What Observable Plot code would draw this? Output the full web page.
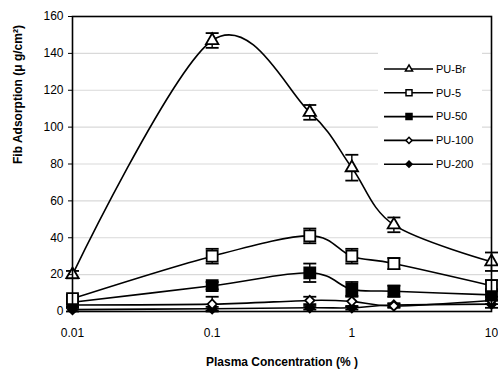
<!DOCTYPE html>
<html><head><meta charset="utf-8">
<script src="https://cdn.jsdelivr.net/npm/d3@7"></script>
<script src="https://cdn.jsdelivr.net/npm/@observablehq/plot@0.6"></script>
<style>
html,body{margin:0;padding:0;background:#fff;}
#chart svg{display:block;font-family:"Liberation Sans",Arial,sans-serif;}
</style></head>
<body><div id="chart"></div>
<script>
const conc = [0.01, 0.1, 0.5, 1, 2, 10];
const seriesNames = ["PU-Br", "PU-5", "PU-50", "PU-100", "PU-200"];
const puBr = [20, 147, 108, 78, 47, 27];
const puBrErr = [2, 4, 4, 7, 4, 5];
const pu5 = [7, 30, 41, 30, 26, 14];
const pu5Err = [2, 4, 4, 4, 3, 3];
const pu50 = [5, 14, 21, 12, 11, 9];
const pu50Err = [1, 2, 5, 4, 3, 3];
const pu100 = [3.5, 4, 6, 5.5, 3, 6];
const pu100Err = [1, 4, 2, 3, 1, 2];
const pu200 = [1, 1.5, 2, 2, 3.5, 4];
const pu200Err = [1, 1, 1, 1, 1, 2];
const yTicks = [0, 20, 40, 60, 80, 100, 120, 140, 160];
const xTicks = [0.01, 0.1, 1, 10];
const xTickLabels = ["0.01", "0.1", "1", "10"];

const symbols = {"PU-Br":"triangle","PU-5":"square","PU-50":"square","PU-100":"diamond2","PU-200":"diamond2"};
const fills = {"PU-Br":"white","PU-5":"white","PU-50":"black","PU-100":"white","PU-200":"black"};
const sizes = {"PU-Br":4.6,"PU-5":6.2,"PU-50":6.2,"PU-100":4.2,"PU-200":4.2};

const vals = [puBr, pu5, pu50, pu100, pu200];
const errs = [puBrErr, pu5Err, pu50Err, pu100Err, pu200Err];
const data = [];
seriesNames.forEach((s, i) => conc.forEach((c, j) => data.push({series: s, x: c, y: vals[i][j], e: errs[i][j]})));

const cap = {draw(ctx, size){ const r = 6.5; ctx.moveTo(-r, 0); ctx.lineTo(r, 0); }};

const marks = [
  Plot.gridY(yTicks.filter(d => d > 0 && d < 160), {stroke: "#d9d9d9", strokeOpacity: 1, strokeWidth: 1.2}),
];
[...seriesNames].reverse().forEach(s => {
  const d = data.filter(r => r.series === s);
  marks.push(Plot.line(d, {x: "x", y: "y", curve: "cardinal", tension: 0, stroke: "black", strokeWidth: 1.6}));
  marks.push(Plot.ruleX(d, {x: "x", y1: r => Math.max(0, r.y - r.e), y2: r => r.y + r.e, stroke: "black", strokeWidth: 1.4}));
  marks.push(Plot.dot(d, {x: "x", y: r => r.y + r.e, symbol: cap, stroke: "black", strokeWidth: 1.8, r: 5}));
  marks.push(Plot.dot(d, {x: "x", y: r => Math.max(0, r.y - r.e), symbol: cap, stroke: "black", strokeWidth: 1.8, r: 5}));
  marks.push(Plot.dot(d, {x: "x", y: "y", symbol: symbols[s], fill: fills[s], stroke: "black", strokeWidth: 1.8, r: sizes[s]}));
});
marks.push(Plot.frame({stroke: "black", strokeWidth: 1.6}));
marks.push(Plot.axisY(yTicks, {tickSize: 4, tickPadding: 5, fontSize: 12, label: null}));
marks.push(Plot.axisX(xTicks, {tickSize: 0, tickPadding: 17, fontSize: 12, label: null, tickFormat: d => xTickLabels[xTicks.indexOf(d)]}));
marks.push(Plot.text(["Fib Adsorption (\u03BC g/cm\u00B2)"], {frameAnchor: "left", dx: -54, rotate: -90, text: d => d, fontWeight: "bold", fontSize: 12}));
marks.push(Plot.text(["Plasma Concentration (% )"], {frameAnchor: "bottom", dy: 54, text: d => d, fontWeight: "bold", fontSize: 12}));

const plot = Plot.plot({
  width: 498, height: 371,
  marginLeft: 72, marginRight: 7, marginTop: 16, marginBottom: 60,
  style: {fontFamily: '"Liberation Sans", Arial, sans-serif', fontSize: "12px", color: "black", background: "white"},
  x: {type: "log", domain: [0.01, 10]},
  y: {domain: [0, 160]},
  marks
});
document.getElementById("chart").appendChild(plot);

// inset legend
const svg = d3.select(plot);
const lg = svg.append("g").attr("font-size", 11).attr("text-anchor", "start")
  .attr("font-family", '"Liberation Sans", Arial, sans-serif');
lg.append("rect").attr("x", 378).attr("y", 52).attr("width", 104).attr("height", 126).attr("fill", "white");
const legSize = {"PU-Br": 22, "PU-5": 36, "PU-50": 36, "PU-100": 24, "PU-200": 24};
seriesNames.forEach((s, i) => {
  const y = 69 + i * 23.8;
  lg.append("line").attr("x1", 384).attr("x2", 433).attr("y1", y).attr("y2", y).attr("stroke", "black").attr("stroke-width", 1.6);
  const sym = {triangle: d3.symbolTriangle, square: d3.symbolSquare, diamond2: d3.symbolDiamond2}[symbols[s]];
  lg.append("path").attr("d", d3.symbol(sym, legSize[s])()).attr("transform", `translate(409,${y})`)
    .attr("fill", fills[s]).attr("stroke", "black").attr("stroke-width", 1.5);
  lg.append("text").attr("x", 436).attr("y", y).attr("dy", "0.35em").text(s);
});
</script></body></html>
